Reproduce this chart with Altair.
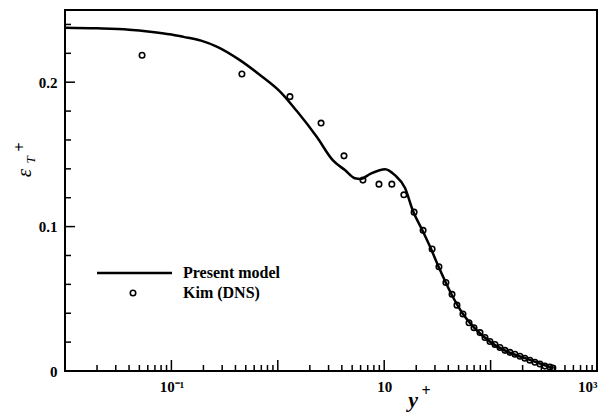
import altair as alt
import pandas as pd

# Present model curve
model_x = [0.01, 0.02, 0.04, 0.063, 0.1, 0.13, 0.19, 0.27, 0.44, 0.68, 1.05, 1.51, 2.33, 3.3,
           4.3, 5.3, 6.0, 7.4, 10.2, 12.6, 15.7, 18.6, 23, 27, 33, 43, 55, 70, 100, 150, 200, 300, 390]
model_y = [0.2377, 0.2373, 0.2364, 0.2350, 0.2330, 0.2314, 0.2288, 0.2245, 0.2153, 0.2050, 0.1935,
           0.1800, 0.1620, 0.1458, 0.1390, 0.1335, 0.1330, 0.1365, 0.1397, 0.1356, 0.1267, 0.1110,
           0.0970, 0.0860, 0.0710, 0.0530, 0.0395, 0.0300, 0.0200, 0.0128, 0.0095, 0.0048, 0.0018]

# Kim (DNS) points
dns_x = [0.053, 0.46, 1.30, 2.55, 4.19, 6.31, 8.93, 11.8, 15.3, 19.1, 23.2, 28.2, 32.7, 38.0, 43.4,
         48.3, 55.0, 62.7, 69.8, 79.5, 88.6, 98.7, 110, 122.5, 136.5, 152, 169.5, 189, 210, 234,
         261, 291, 324, 361, 385]
dns_y = [0.2187, 0.2057, 0.1900, 0.1717, 0.1490, 0.1322, 0.1294, 0.1294, 0.1220, 0.1100, 0.0974,
         0.0845, 0.0722, 0.0613, 0.0531, 0.0456, 0.0395, 0.0334, 0.0300, 0.0266, 0.0232, 0.0204,
         0.0184, 0.0163, 0.0143, 0.0129, 0.0116, 0.0102, 0.0088, 0.0075, 0.0061, 0.0048, 0.0034,
         0.0027, 0.0020]

x_major = [0.1, 1, 10, 100]
x_minor = [k * 10.0 ** d for d in range(-2, 3) for k in range(2, 10)]
x_label_values = [0.1, 10, 1000]
y_major = [0.1, 0.2]
y_minor = [0.02, 0.04, 0.06, 0.08, 0.12, 0.14, 0.16, 0.18, 0.22, 0.24]
y_label_values = [0, 0.1, 0.2]

legend_labels = ["Present model", "Kim (DNS)"]

W, H = 532, 361
SERIF = "Liberation Serif"

xs = alt.Scale(type="log", domain=[0.01, 1000], nice=False)
ys = alt.Scale(domain=[0, 0.25], nice=False, zero=False)

model_df = pd.DataFrame({"x": model_x, "y": model_y})
dns_df = pd.DataFrame({"x": dns_x, "y": dns_y})

line = alt.Chart(model_df).mark_line(color="black", strokeWidth=2.5, interpolate="monotone").encode(
    x=alt.X("x:Q", scale=xs, axis=alt.Axis(
        values=x_label_values, ticks=False, domain=False, grid=False, title=None,
        labelExpr="datum.value < 1 ? '10⁻¹' : (datum.value < 100 ? '10' : '10³')",
        labelFont=SERIF, labelFontSize=15, labelFontWeight="bold", labelColor="black",
        labelPadding=8)),
    y=alt.Y("y:Q", scale=ys, axis=alt.Axis(
        values=y_label_values, ticks=False, domain=False, grid=False, title=None,
        labelExpr="datum.value == 0 ? '0' : format(datum.value, '.1f')",
        labelFont=SERIF, labelFontSize=15, labelFontWeight="bold", labelColor="black",
        labelPadding=8)),
)

pts = alt.Chart(dns_df).mark_point(shape="circle", filled=False, color="black", size=30,
                                   strokeWidth=1.6, opacity=1).encode(
    x=alt.X("x:Q", scale=xs), y=alt.Y("y:Q", scale=ys))

xmaj = alt.Chart(pd.DataFrame({"v": x_major})).mark_rule(color="black", strokeWidth=1.5).encode(
    x=alt.X("v:Q", scale=xs), y=alt.value(H), y2=alt.value(H - 11))
xmin = alt.Chart(pd.DataFrame({"v": x_minor})).mark_rule(color="black", strokeWidth=1.5).encode(
    x=alt.X("v:Q", scale=xs), y=alt.value(H), y2=alt.value(H - 6))
ymaj = alt.Chart(pd.DataFrame({"v": y_major})).mark_rule(color="black", strokeWidth=1.5).encode(
    y=alt.Y("v:Q", scale=ys), x=alt.value(0), x2=alt.value(10))
ymin = alt.Chart(pd.DataFrame({"v": y_minor})).mark_rule(color="black", strokeWidth=1.5).encode(
    y=alt.Y("v:Q", scale=ys), x=alt.value(0), x2=alt.value(6))

# Legend
leg_line = alt.Chart(pd.DataFrame({"a": [0]})).mark_rule(color="black", strokeWidth=2.5).encode(
    x=alt.value(32), x2=alt.value(107), y=alt.value(263))
leg_pt = alt.Chart(pd.DataFrame({"a": [0]})).mark_point(shape="circle", filled=False, color="black",
                                                         size=30, strokeWidth=1.6, opacity=1).encode(
    x=alt.value(68), y=alt.value(283))
leg_txt = alt.Chart(pd.DataFrame({"t": legend_labels, "yy": [263, 283]})).mark_text(
    align="left", baseline="middle", font=SERIF, fontSize=16, fontWeight="bold", color="black").encode(
    text="t:N", x=alt.value(118), y=alt.Y("yy:Q", scale=None))

# Axis titles
ytitle_eps = alt.Chart(pd.DataFrame({"t": ["ε"]})).mark_text(
    font=SERIF, fontSize=21, fontStyle="italic", angle=270, color="black").encode(
    text="t:N", x=alt.value(-40), y=alt.value(163))
ytitle_T = alt.Chart(pd.DataFrame({"t": ["T"]})).mark_text(
    font=SERIF, fontSize=13, fontStyle="italic", angle=270, color="black").encode(
    text="t:N", x=alt.value(-34), y=alt.value(150))
ytitle_p = alt.Chart(pd.DataFrame({"t": ["+"]})).mark_text(
    font=SERIF, fontSize=16, fontWeight="bold", angle=270, color="black").encode(
    text="t:N", x=alt.value(-45), y=alt.value(137))
xtitle_y = alt.Chart(pd.DataFrame({"t": ["y"]})).mark_text(
    font=SERIF, fontSize=22, fontStyle="italic", fontWeight="bold", color="black").encode(
    text="t:N", x=alt.value(348), y=alt.value(390))
xtitle_p = alt.Chart(pd.DataFrame({"t": ["+"]})).mark_text(
    font=SERIF, fontSize=16, fontWeight="bold", color="black").encode(
    text="t:N", x=alt.value(361), y=alt.value(381))

chart = alt.layer(
    line, pts, xmaj, xmin, ymaj, ymin, leg_line, leg_pt, leg_txt,
    ytitle_eps, ytitle_T, ytitle_p, xtitle_y, xtitle_p
).properties(
    width=W, height=H,
    autosize=alt.AutoSizeParams(type="none"),
    padding={"left": 57, "top": 2, "right": 10, "bottom": 48},
).configure_view(stroke="black", strokeWidth=2)

chart.save("out.html", embed_options={"renderer": "svg", "actions": False})
